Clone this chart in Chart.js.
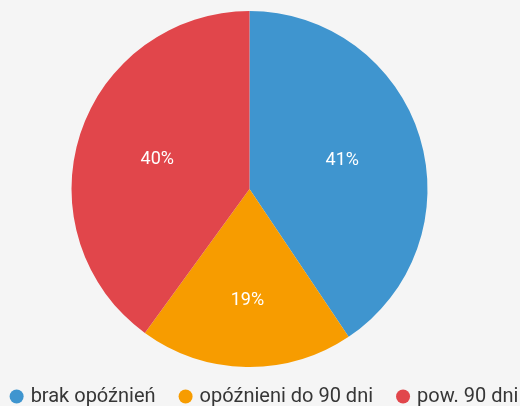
<!DOCTYPE html>
<html>
<head>
<meta charset="utf-8">
<script src="https://cdn.jsdelivr.net/npm/chart.js@4.4.1/dist/chart.umd.min.js"></script>
<style>
  html, body { margin: 0; padding: 0; background: #f5f5f5; }
  #wrap { width: 520px; height: 406px; position: relative; }
</style>
</head>
<body>
<div id="wrap"><canvas id="pieChart"></canvas></div>
<script>
// data
var categories = ['brak opóźnień', 'opóźnieni do 90 dni', 'pow. 90 dni'];
var shares = [40.6, 19.4, 40.0];
var sliceColors = ['#3f95cf', '#f79c00', '#e1464b'];

var fontFamily = 'Roboto, "Noto Sans", sans-serif';

// percent labels inside the slices, near the slice centroid
var sliceLabels = {
  id: 'sliceLabels',
  afterDatasetsDraw: function(chart) {
    var ctx = chart.ctx;
    var meta = chart.getDatasetMeta(0);
    ctx.save();
    ctx.fillStyle = '#ffffff';
    ctx.font = '18px ' + fontFamily;
    ctx.textAlign = 'center';
    ctx.textBaseline = 'middle';
    meta.data.forEach(function(arc, i) {
      var p = arc.getProps(['x', 'y', 'startAngle', 'endAngle', 'outerRadius'], true);
      var mid = (p.startAngle + p.endAngle) / 2;
      var half = (p.endAngle - p.startAngle) / 2;
      var centroid = 2 * p.outerRadius * Math.sin(half) / (3 * half);
      var r = Math.max(centroid, p.outerRadius * 0.545);
      ctx.fillText(Math.round(shares[i]) + '%', p.x + Math.cos(mid) * r, p.y + Math.sin(mid) * r);
    });
    ctx.restore();
  }
};

// legend row at the bottom
var bottomLegend = {
  id: 'bottomLegend',
  afterDraw: function(chart) {
    var ctx = chart.ctx;
    ctx.save();
    ctx.font = '20px ' + fontFamily;
    ctx.textBaseline = 'middle';
    var dot = 14, gapText = 7, gapItem = 23;
    var widths = categories.map(function(c) { return dot + gapText + ctx.measureText(c).width; });
    var total = widths.reduce(function(a, b) { return a + b; }, 0) + gapItem * (categories.length - 1);
    var x = chart.width / 2 + 4 - total / 2;
    var y = 396.5;
    categories.forEach(function(c, i) {
      ctx.fillStyle = sliceColors[i];
      ctx.beginPath();
      ctx.arc(x + dot / 2, y, dot / 2, 0, Math.PI * 2);
      ctx.fill();
      ctx.fillStyle = '#363636';
      ctx.fillText(c, x + dot + gapText, y);
      x += widths[i] + gapItem;
    });
    ctx.restore();
  }
};

var ctxPie = document.getElementById('pieChart').getContext('2d');
var pieChart = new Chart(ctxPie, {
  type: 'pie',
  data: {
    labels: categories,
    datasets: [{
      data: shares,
      backgroundColor: sliceColors,
      borderWidth: 0
    }]
  },
  options: {
    responsive: true,
    maintainAspectRatio: false,
    animation: false,
    layout: { padding: { top: 11, bottom: 39, left: 0, right: 21 } },
    plugins: {
      legend: { display: false },
      tooltip: { enabled: false }
    }
  },
  plugins: [sliceLabels, bottomLegend]
});
</script>
</body>
</html>
